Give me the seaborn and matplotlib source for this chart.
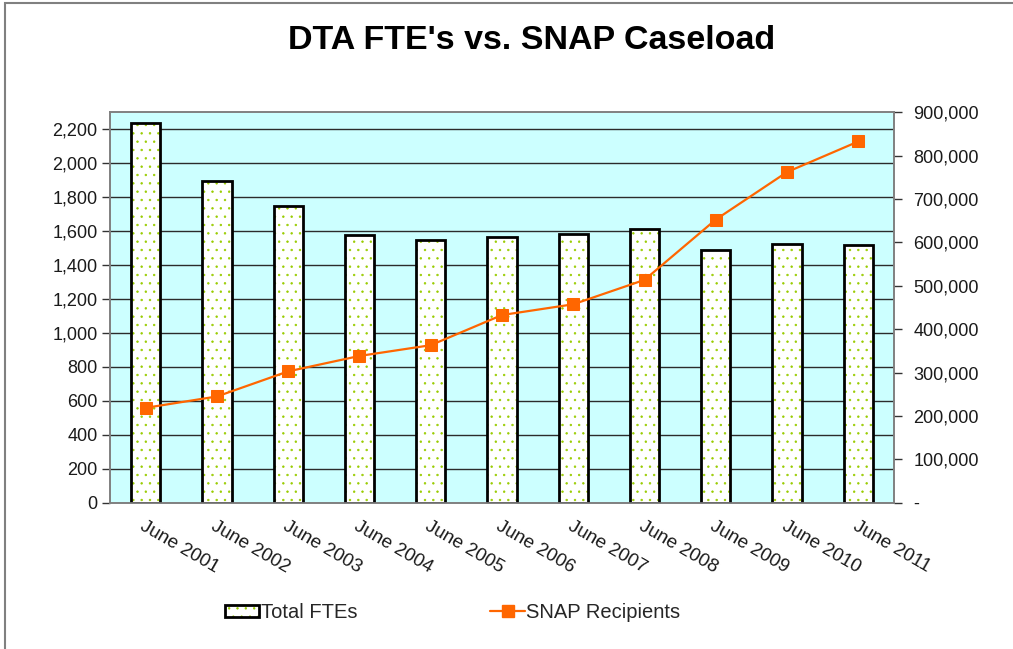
import matplotlib
matplotlib.use("Agg")
import matplotlib.pyplot as plt
import matplotlib.patches as mpatches
from matplotlib.lines import Line2D
from matplotlib.ticker import FuncFormatter, FixedLocator
import seaborn as sns
import pandas as pd

sns.set_style("white")
plt.rcParams['font.family'] = ['Liberation Sans', 'DejaVu Sans']
plt.rcParams['hatch.linewidth'] = 0.5

# ====================== DATA ======================
years = ['June 2001', 'June 2002', 'June 2003', 'June 2004', 'June 2005', 'June 2006',
         'June 2007', 'June 2008', 'June 2009', 'June 2010', 'June 2011']
total_ftes = [2237, 1893, 1747, 1577, 1546, 1563, 1583, 1615, 1489, 1524, 1516]
snap_recipients = [218700, 244900, 302800, 338300, 363100, 432600, 457400, 513700,
                   652700, 762300, 832700]

df = pd.DataFrame({'year': years, 'fte': total_ftes, 'snap': snap_recipients})

bg = '#CCFFFF'
dot_green = '#99CC00'
orange = '#FF6600'
text_col = '#1a1a1a'

# ====================== PLOT ======================
fig = plt.figure(figsize=(10.13, 6.49), dpi=100)
ax1 = fig.add_axes([0.1086, 0.2254, 0.7739, 0.6016])
ax1.set_facecolor(bg)
ax1.set_axisbelow(True)

sns.barplot(data=df, x='year', y='fte', ax=ax1, color='white', width=0.41,
            saturation=1, edgecolor=dot_green, linewidth=0, hatch='..')
# black outline over the dotted fill
for p in list(ax1.patches):
    ax1.add_patch(mpatches.Rectangle(p.get_xy(), p.get_width(), p.get_height(),
                                     fill=False, edgecolor='black', linewidth=2, zorder=3))

ax1.set_xlim(-0.5, len(years) - 0.5)
ax1.set_ylim(0, 2300)
ax1.set_yticks(range(0, 2201, 200))
ax1.yaxis.set_major_formatter(FuncFormatter(lambda v, _: f'{int(v):,}'))
ax1.grid(axis='y', color='#2b2b2b', linewidth=1)
ax1.grid(axis='x', visible=False)
ax1.set_xlabel('')
ax1.set_ylabel('')

# x ticks: labels at categories, tick marks on boundaries
ax1.tick_params(axis='x', which='major', length=0, pad=11)
ax1.xaxis.set_minor_locator(FixedLocator([i - 0.5 for i in range(len(years) + 1)]))
ax1.tick_params(axis='x', which='minor', length=6, width=1, color='#333333', direction='out')
ax1.set_xticks(range(len(years)))
ax1.set_xticklabels(years, rotation=-30, ha='left', va='top', rotation_mode='anchor',
                    fontsize=13.5, color=text_col)
ax1.tick_params(axis='y', length=6, width=1, color='#333333', labelsize=13,
                labelcolor=text_col, direction='out', pad=3)

for s in ax1.spines.values():
    s.set_color('#808080')
    s.set_linewidth(1.2)

ax2 = ax1.twinx()
sns.lineplot(data=df, x='year', y='snap', ax=ax2, color=orange, marker='s',
             markersize=8.5, markeredgecolor=orange, linewidth=1.6, zorder=5)
ax2.set_ylim(0, 900000)
ax2.set_yticks(range(0, 900001, 100000))
ax2.yaxis.set_major_formatter(FuncFormatter(lambda v, _: '-' if v == 0 else f'{int(v):,}'))
ax2.tick_params(axis='y', length=6, width=1, color='#333333', labelsize=13,
                labelcolor=text_col, direction='out', pad=8)
ax2.set_ylabel('')
ax2.set_xlabel('')
for s in ax2.spines.values():
    s.set_color('#808080')
    s.set_linewidth(1.2)

fig.text(0.525, 0.938, "DTA FTE's vs. SNAP Caseload", ha='center', va='center',
         fontsize=24.5, fontweight='bold', color='black')

# legend
h_fill = mpatches.Patch(facecolor='white', edgecolor=dot_green, linewidth=0, hatch='..')
h_edge = mpatches.Patch(fill=False, edgecolor='black', linewidth=2)
h_line = Line2D([], [], color=orange, marker='s', markersize=8.5, linewidth=1.6)
fig.legend([(h_fill, h_edge), h_line], ['Total FTEs', 'SNAP Recipients'], ncol=2,
           frameon=False, loc='center', bbox_to_anchor=(0.447, 0.056), fontsize=14.5,
           handlelength=1.7, handleheight=0.6, handletextpad=0.08, columnspacing=6.6)

# figure border (left and top)
fig.add_artist(mpatches.Rectangle((5 / 1013, -0.1), 1.2, 1.1 - 3 / 649,
                                  transform=fig.transFigure, fill=False,
                                  edgecolor='#808080', linewidth=1.5))

fig.savefig('out.png', dpi=100)
